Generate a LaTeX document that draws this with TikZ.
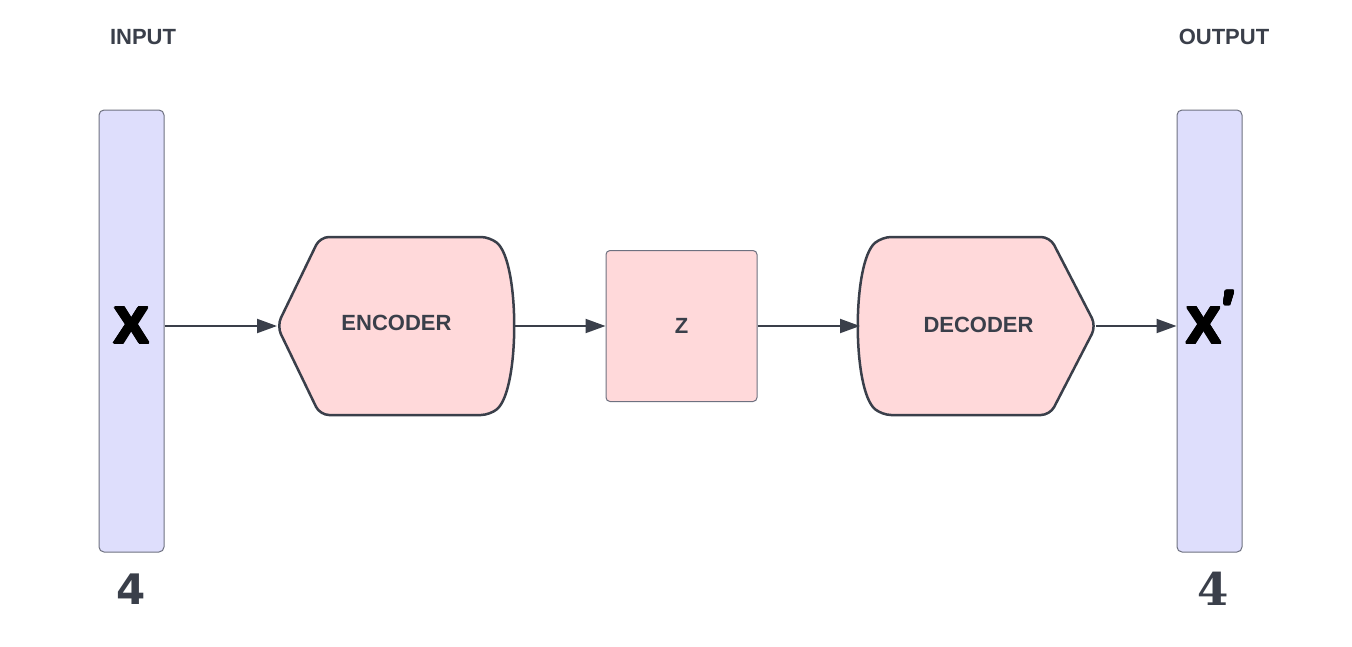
\documentclass[tikz,border=0pt]{standalone}
\usepackage{fontspec}
\usepackage{contour}
\setmainfont{Liberation Sans}
\newfontfamily\serifdigit{DejaVu Serif}
\newfontfamily\sansdigit{DejaVu Sans}
\usetikzlibrary{arrows.meta}
\definecolor{barfill}{HTML}{DEDEFC}
\definecolor{boxfill}{HTML}{FFD9DA}
\definecolor{inkgray}{HTML}{3A3F4A}
\definecolor{edgegray}{HTML}{6E7180}
\contourlength{1.2pt}

\begin{document}
\begin{tikzpicture}[x=1pt, y=-1pt,
		bar/.style={draw=edgegray, line width=1pt, fill=barfill, rounded corners=5pt, minimum width=65, minimum height=442},
		coder/.style={draw=inkgray, line width=2.5pt, fill=boxfill, rounded corners=9pt},
		tag/.style={text=inkgray, font=\fontsize{22}{26}\selectfont\bfseries},
		bigx/.style={inner sep=0pt, font=\fontsize{52}{52}\selectfont\bfseries},
		sizetag/.style={text=inkgray, font=\fontsize{42}{42}\selectfont\sansdigit\bfseries},
		serifsize/.style={text=inkgray, font=\fontsize{45}{45}\selectfont\serifdigit\bfseries},
		flow/.style={draw=inkgray, line width=2pt, -{Triangle[length=20pt,width=14pt]}}]
		\useasboundingbox (0,0) rectangle (1352,646);
		
		% vectors
		\node[bar] (inbar) at (131.5,331) {};
		\node[bar] (outbar) at (1209.5,331) {};
		\node[tag] (inlabel) at (143,37) {INPUT};
		\node[tag] (outlabel) at (1224,37) {OUTPUT};
		\node[bigx] (xin) at (131.5,326) {\contour{black}{X}};
		\node[bigx, label={[font=\fontsize{50}{50}\selectfont\bfseries, inner sep=0pt, xshift=1pt, yshift=-20pt]north east:\contour{black}{′}}] (xout) at (1204,326) {\contour{black}{X}};
		\node[sizetag] (indim) at (131,589) {4};
		\node[serifsize] (outdim) at (1213,589) {4};
		
		% encoder
		\coordinate (encin) at (277,326);
		\coordinate (encout) at (513,326);
		\draw[coder] (320,237) -- (490,237) .. controls (520,262) and (520,390) .. (490,415) -- (320,415) -- (encin) -- cycle;
		\node[tag] (enctext) at (396.5,323) {ENCODER};
		
		% latent
		\node[draw=edgegray, fill=boxfill, line width=1pt, rounded corners=4pt, minimum size=151, tag] (z) at (681.5,326) {Z};
		
		% decoder
		\coordinate (decin) at (860,326);
		\coordinate (decout) at (1096,326);
		\draw[coder] (882,415) .. controls (852,390) and (852,262) .. (882,237) -- (1050,237) -- (decout) -- (1050,415) -- cycle;
		\node[tag] (dectext) at (978.5,325) {DECODER};
		
		\draw[flow] (inbar.east |- encin) -- (encin);
		\draw[flow] (encout) -- (z.west);
		\draw[flow] (z.east) -- (decin);
		\draw[flow] (decout) -- (outbar.west |- decout);
	\end{tikzpicture}
\end{document}
